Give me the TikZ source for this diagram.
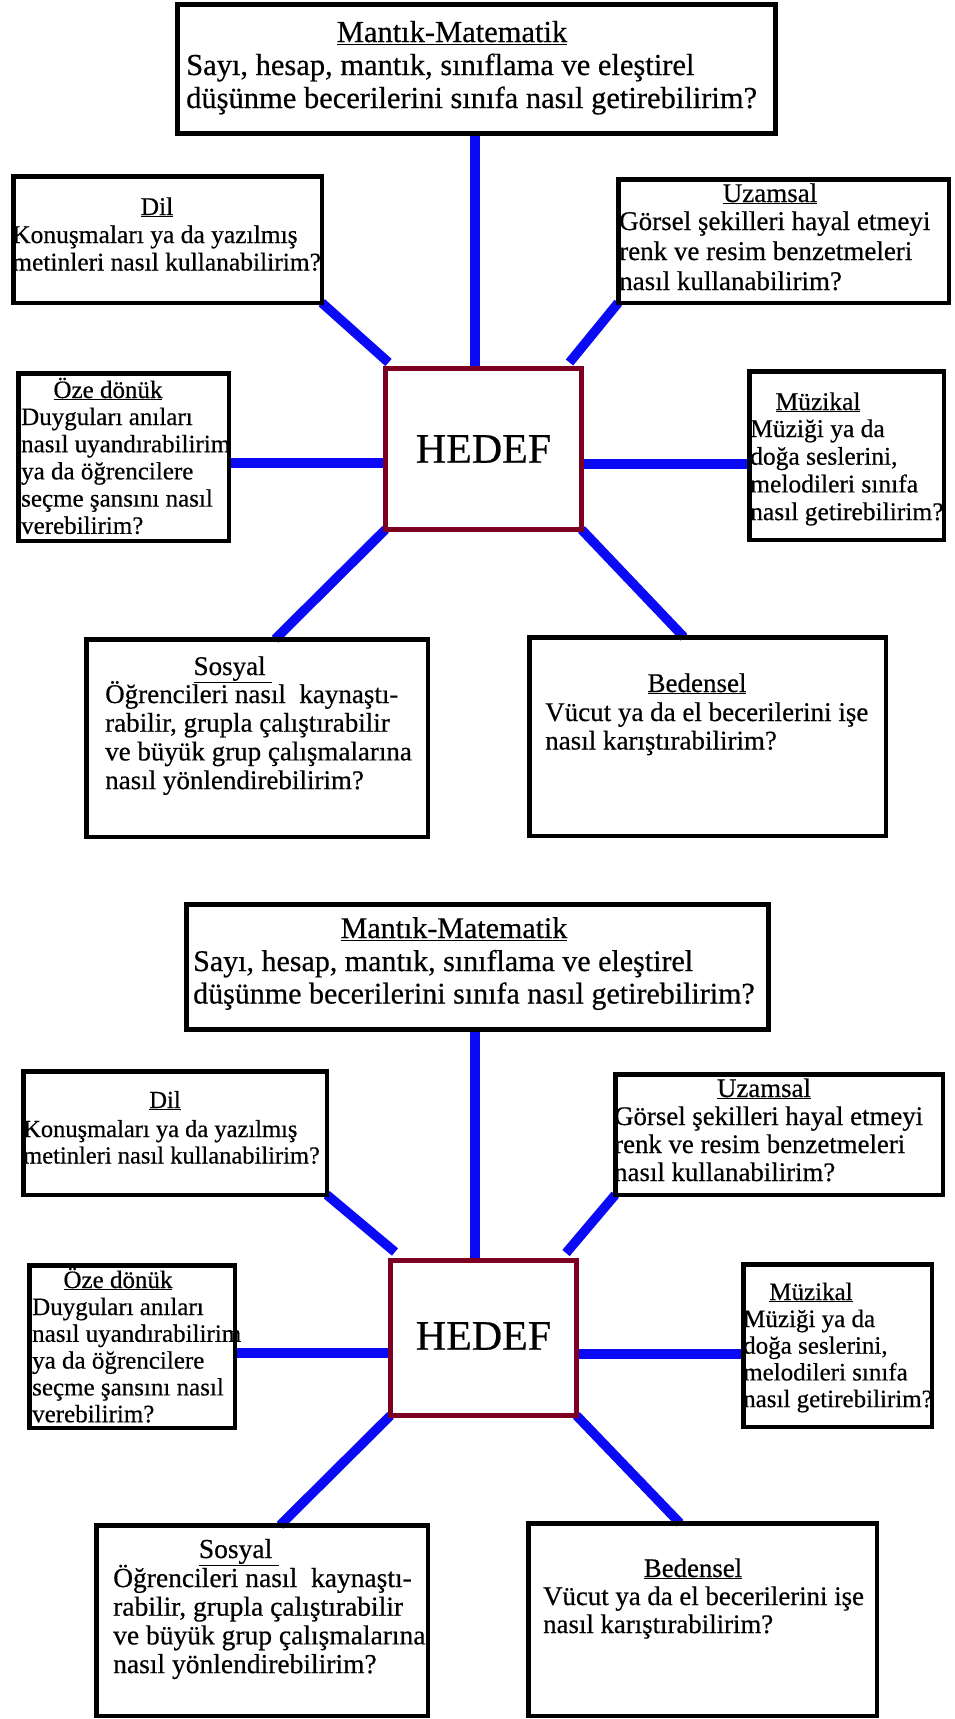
\documentclass[tikz,border=0pt]{standalone}
\usepackage{fontspec}
\setmainfont[FakeBold=0.5]{Liberation Serif}
\usetikzlibrary{calc,backgrounds}
\definecolor{hedefred}{RGB}{125,0,35}
\definecolor{linkblue}{RGB}{10,10,245}
\newcommand\setfs[2]{\fontsize{#1}{#2}\selectfont}
\newcommand\lines[1]{\begin{tabular}[t]{@{}l@{}}#1\end{tabular}}
\begin{document}
\begin{tikzpicture}[x=1pt,y=-1pt,
  box/.style={draw=black,line width=4.5pt,inner sep=0pt,outer sep=0pt},
  topbox/.style={box,line width=5pt},
  hbox/.style={draw=hedefred,line width=5pt,inner sep=0pt,outer sep=0pt},
  conn/.style={draw=linkblue,line width=10pt},
  dconn/.style={draw=linkblue,line width=9.5pt},
  ttl/.style={inner sep=0pt,anchor=base},
  body/.style={inner sep=0pt,anchor=base west},
  hed/.style={inner sep=0pt,anchor=center,font=\setfs{42}{46}},
]
\useasboundingbox (0,0) rectangle (954,1719);

% ================= Diagram 1 =================
\node[topbox,minimum width=598pt,minimum height=129pt] (mm1) at (476.5,69) {};
\node[box,minimum width=308.5pt,minimum height=126.5pt] (dil1) at (167.5,239.5) {};
\node[box,minimum width=330.5pt,minimum height=123.5pt] (uz1) at (783.5,241) {};
\node[hbox,minimum width=196pt,minimum height=161pt] (hedef1) at (483.5,449) {};
\node[box,minimum width=210.5pt,minimum height=167.5pt] (oze1) at (123.5,457) {};
\node[box,minimum width=194.5pt,minimum height=168.5pt] (muz1) at (846.5,455.5) {};
\node[box,minimum width=341.5pt,minimum height=197.5pt] (sos1) at (257,738) {};
\node[box,minimum width=356.5pt,minimum height=198.5pt] (bed1) at (707.5,736.5) {};

\begin{scope}[on background layer]
\coordinate (v1) at ($(hedef1.north)+(-9,0)$);
\draw[conn] (v1 |- mm1.south) -- (v1);
\draw[dconn] (dil1.south east) -- ($(hedef1.north west)+(3,-6)$);
\draw[dconn] (uz1.south west) -- ($(hedef1.north east)+(-12,-6)$);
\coordinate (l1) at ($(hedef1.west)+(0,14)$);
\draw[conn] (l1 -| oze1.east) -- (l1);
\coordinate (r1) at ($(hedef1.east)+(0,15)$);
\draw[conn] (r1) -- (r1 -| muz1.west);
\draw[dconn] (hedef1.south west) -- ($(sos1.north)+(18,0)$);
\draw[dconn] (hedef1.south east) -- ($(bed1.north)+(-23.5,0)$);
\end{scope}

\node[ttl] (mm1t) at (452,42) {\setfs{30.5}{33}\underline{Mantık-Matematik}};
\node[body] (mm1b) at (186,75) {\setfs{30.5}{33}\lines{Sayı, hesap, mantık, sınıflama ve eleştirel\\düşünme becerilerini sınıfa nasıl getirebilirim?}};
\node[ttl] (dil1t) at (157,215) {\setfs{25.5}{27.5}\underline{Dil}};
\node[body] (dil1b) at (12,243) {\setfs{25.5}{27.5}\lines{Konuşmaları ya da yazılmış\\metinleri nasıl kullanabilirim?}};
\node[ttl] (uz1t) at (770,202) {\setfs{27}{30}\underline{Uzamsal}};
\node[body] (uz1b) at (619,230) {\setfs{27}{30}\lines{Görsel şekilleri hayal etmeyi\\renk ve resim benzetmeleri\\nasıl kullanabilirim?}};
\node[hed] (hedef1t) at (483.5,449) {HEDEF};
\node[ttl] (oze1t) at (108,398) {\setfs{25}{27.2}\underline{Öze dönük}};
\node[body] (oze1b) at (21,425) {\setfs{25}{27.2}\lines{Duyguları anıları\\nasıl uyandırabilirim\\ya da öğrencilere\\seçme şansını nasıl\\verebilirim?}};
\node[ttl] (muz1t) at (818,410) {\setfs{25.5}{27.7}\underline{Müzikal}};
\node[body] (muz1b) at (750,437) {\setfs{25.5}{27.7}\lines{Müziği ya da\\doğa seslerini,\\melodileri sınıfa\\nasıl getirebilirim?}};
\node[ttl] (sos1t) at (233,675) {\setfs{27}{28.7}\underline{Sosyal\ }};
\node[body] (sos1b) at (105,703) {\setfs{27}{28.7}\lines{Öğrencileri nasıl\ \ kaynaştı-\\rabilir, grupla çalıştırabilir\\ve büyük grup çalışmalarına\\nasıl yönlendirebilirim?}};
\node[ttl] (bed1t) at (697,692) {\setfs{27}{28.5}\underline{Bedensel}};
\node[body] (bed1b) at (545,721) {\setfs{27}{28.5}\lines{Vücut ya da el becerilerini işe\\nasıl karıştırabilirim?}};

% ================= Diagram 2 =================
\node[topbox,minimum width=582pt,minimum height=125pt] (mm2) at (477.5,967) {};
\node[box,minimum width=303.5pt,minimum height=123.5pt] (dil2) at (175,1133) {};
\node[box,minimum width=327.5pt,minimum height=120.5pt] (uz2) at (779,1134.5) {};
\node[hbox,minimum width=186pt,minimum height=155pt] (hedef2) at (483.5,1338) {};
\node[box,minimum width=205.5pt,minimum height=162.5pt] (oze2) at (132,1346.5) {};
\node[box,minimum width=188.5pt,minimum height=162.5pt] (muz2) at (837.5,1345.5) {};
\node[box,minimum width=331.5pt,minimum height=190.5pt] (sos2) at (262,1620.5) {};
\node[box,minimum width=348.5pt,minimum height=192.5pt] (bed2) at (702.5,1619.5) {};

\begin{scope}[on background layer]
\coordinate (v2) at ($(hedef2.north)+(-8.5,0)$);
\draw[conn] (v2 |- mm2.south) -- (v2);
\draw[dconn] (dil2.south east) -- ($(hedef2.north west)+(4.5,-8.5)$);
\draw[dconn] (uz2.south west) -- ($(hedef2.north east)+(-10.5,-7.5)$);
\coordinate (l2) at ($(hedef2.west)+(0,15)$);
\draw[conn] (l2 -| oze2.east) -- (l2);
\coordinate (r2) at ($(hedef2.east)+(0,16)$);
\draw[conn] (r2) -- (r2 -| muz2.west);
\draw[dconn] (hedef2.south west) -- ($(sos2.north)+(18,0)$);
\draw[dconn] (hedef2.south east) -- ($(bed2.north)+(-22.5,0)$);
\end{scope}

\node[ttl] (mm2t) at (454,938) {\setfs{30}{32.5}\underline{Mantık-Matematik}};
\node[body] (mm2b) at (193,971) {\setfs{30}{32.5}\lines{Sayı, hesap, mantık, sınıflama ve eleştirel\\düşünme becerilerini sınıfa nasıl getirebilirim?}};
\node[ttl] (dil2t) at (165,1108) {\setfs{24.5}{26.5}\underline{Dil}};
\node[body] (dil2b) at (23,1137) {\setfs{24.5}{26.5}\lines{Konuşmaları ya da yazılmış\\metinleri nasıl kullanabilirim?}};
\node[ttl] (uz2t) at (764,1097) {\setfs{26.8}{28}\underline{Uzamsal}};
\node[body] (uz2b) at (614,1125) {\setfs{26.8}{28}\lines{Görsel şekilleri hayal etmeyi\\renk ve resim benzetmeleri\\nasıl kullanabilirim?}};
\node[hed] (hedef2t) at (483.5,1336) {HEDEF};
\node[ttl] (oze2t) at (118,1288) {\setfs{25}{26.8}\underline{Öze dönük}};
\node[body] (oze2b) at (32,1315) {\setfs{25}{26.8}\lines{Duyguları anıları\\nasıl uyandırabilirim\\ya da öğrencilere\\seçme şansını nasıl\\verebilirim?}};
\node[ttl] (muz2t) at (811,1300) {\setfs{25}{26.7}\underline{Müzikal}};
\node[body] (muz2b) at (743,1327) {\setfs{25}{26.7}\lines{Müziği ya da\\doğa seslerini,\\melodileri sınıfa\\nasıl getirebilirim?}};
\node[ttl] (sos2t) at (239,1558) {\setfs{27.5}{28.7}\underline{Sosyal\ }};
\node[body] (sos2b) at (113,1587) {\setfs{27.5}{28.7}\lines{Öğrencileri nasıl\ \ kaynaştı-\\rabilir, grupla çalıştırabilir\\ve büyük grup çalışmalarına\\nasıl yönlendirebilirim?}};
\node[ttl] (bed2t) at (693,1577) {\setfs{26.8}{28}\underline{Bedensel}};
\node[body] (bed2b) at (543,1605) {\setfs{26.8}{28}\lines{Vücut ya da el becerilerini işe\\nasıl karıştırabilirim?}};
\end{tikzpicture}
\end{document}
